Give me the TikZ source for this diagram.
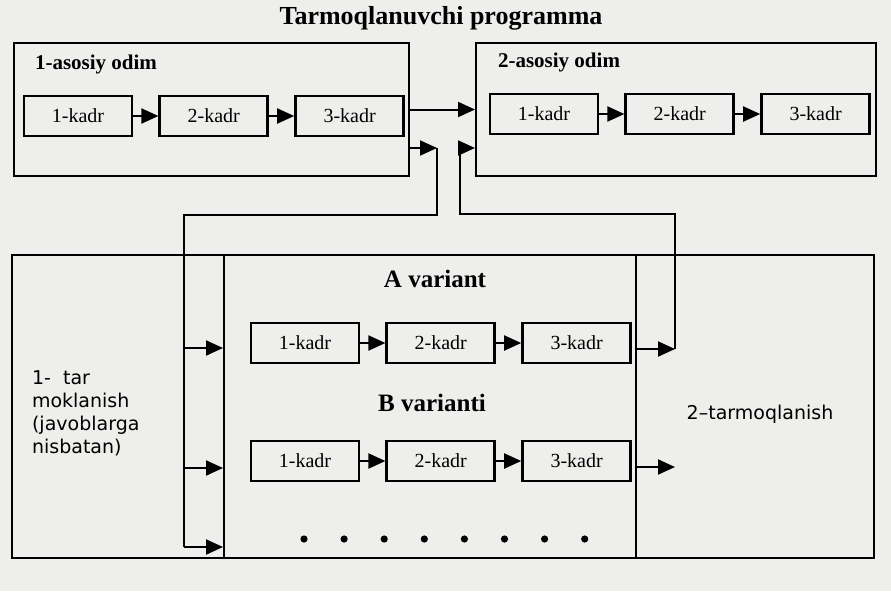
\documentclass[tikz,border=0pt]{standalone}
\usepackage{fontspec}
\setmainfont{Liberation Serif}
\newfontfamily\labelsans{DejaVu Sans}
\usetikzlibrary{arrows.meta,positioning}
\usepackage{xcolor}
\definecolor{paper}{RGB}{238,238,236}

\begin{document}
\begin{tikzpicture}[x=0.5pt, y=-0.5pt, node distance=12.5pt, >={Triangle[length=8.5pt,width=7.5pt]},
  every node/.style={font=\fontsize{10}{12}\selectfont},
  kadr/.style={draw, line width=1.4pt, minimum width=54pt, minimum height=20pt, inner sep=1pt},
  odim/.style={draw, line width=1pt, minimum height=66.5pt},
  panel/.style={draw, line width=1pt, minimum height=151.5pt},
  flow/.style={->, line width=1pt},
  wire/.style={line width=1pt},
  headlbl/.style={font=\bfseries\fontsize{10.5}{12}\selectfont, anchor=west},
  varlbl/.style={font=\bfseries\fontsize{12.5}{14}\selectfont},
  sanslbl/.style={font=\labelsans\fontsize{9.5}{11.5}\selectfont}]
  \fill[paper] (0,0) rectangle (891,591);
  \useasboundingbox (0,0) rectangle (891,591);

  \node[font=\bfseries\fontsize{13}{15}\selectfont] (title) at (441,18) {Tarmoqlanuvchi programma};

  % asosiy odimlar
  \node[odim, minimum width=197.5pt] (odim1) at (211.5,109.5) {};
  \node[odim, minimum width=200pt] (odim2) at (676,109.5) {};
  \node[headlbl] (h1) at (28,64) {1-asosiy odim};
  \node[headlbl] (h2) at (491,62) {2-asosiy odim};
  \node[kadr] (k11) at (78,116) {1-kadr};
  \node[kadr, right=of k11] (k12) {2-kadr};
  \node[kadr, right=of k12] (k13) {3-kadr};
  \node[kadr] (k21) at (544,114) {1-kadr};
  \node[kadr, right=of k21] (k22) {2-kadr};
  \node[kadr, right=of k22] (k23) {3-kadr};
  \draw[flow] (k11) -- (k12); \draw[flow] (k12) -- (k13);
  \draw[flow] (k21) -- (k22); \draw[flow] (k22) -- (k23);
  \draw[flow] (odim1) -- (odim2);

  % tarmoqlanishlar
  \node[panel, minimum width=106pt] (tarm1) at (118,406.5) {};
  \node[panel, minimum width=206pt] (var) at (430,406.5) {};
  \node[panel, minimum width=119pt] (tarm2) at (755,406.5) {};
  \node[sanslbl, align=left, anchor=west] (t1) at (25,413) {1-~ tar\\moklanish\\(javoblarga\\nisbatan)};
  \node[sanslbl] (t2) at (760,414) {2–tarmoqlanish};
  \node[varlbl] (va) at (435,279) {A variant};
  \node[varlbl] (vb) at (432,403) {B varianti};
  \node[kadr] (ka1) at (305,343) {1-kadr};
  \node[kadr, right=of ka1] (ka2) {2-kadr};
  \node[kadr, right=of ka2] (ka3) {3-kadr};
  \node[kadr] (kb1) at (305,461) {1-kadr};
  \node[kadr, right=of kb1] (kb2) {2-kadr};
  \node[kadr, right=of kb2] (kb3) {3-kadr};
  \draw[flow] (ka1) -- (ka2); \draw[flow] (ka2) -- (ka3);
  \draw[flow] (kb1) -- (kb2); \draw[flow] (kb2) -- (kb3);
  \foreach \i in {0,...,7}
    \fill (304+40.1*\i,539) circle (1.8pt);

  % 1-odimdan tarmoqlanishga
  \coordinate (r1) at (437,148);
  \coordinate (r2) at (437,215);
  \coordinate (r3) at (184,215);
  \coordinate (r4) at (184,547);
  \coordinate (ra) at (184,348);
  \coordinate (rb) at (184,468);
  \draw[flow] (odim1.east |- r1) -- (r1);
  \draw[wire] (r1) -- (r2) -- (r3) -- (r4);
  \draw[flow] (ra) -- (ra -| var.west);
  \draw[flow] (rb) -- (rb -| var.west);
  \draw[flow] (r4) -- (r4 -| var.west);

  % variantlardan 2-odimga
  \coordinate (qa) at (675,349);
  \coordinate (qb) at (675,467);
  \coordinate (q2) at (675,214);
  \coordinate (q3) at (460,214);
  \coordinate (q4) at (460,148);
  \draw[flow] (qa -| var.east) -- (qa);
  \draw[flow] (qb -| var.east) -- (qb);
  \draw[wire] (qa) -- (q2) -- (q3) -- (q4);
  \draw[flow] (q4) -- (q4 -| odim2.west);
\end{tikzpicture}
\end{document}
